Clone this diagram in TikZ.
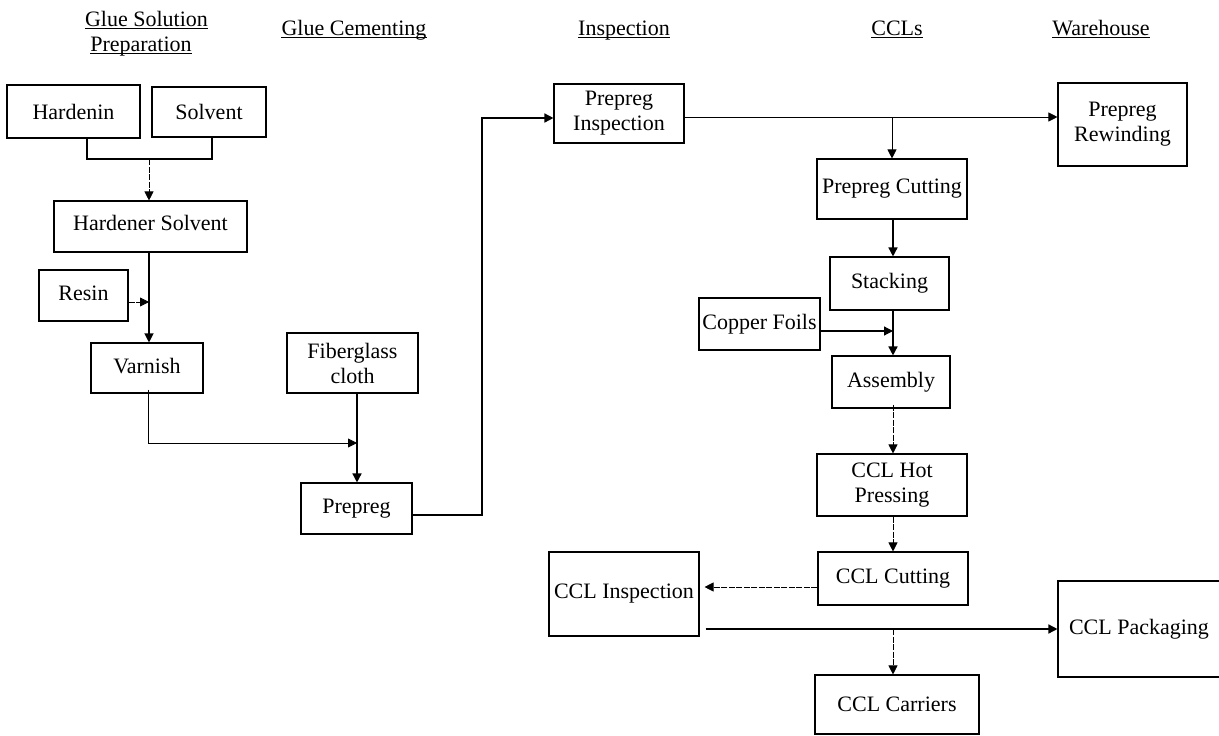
\documentclass[tikz,border=0pt]{standalone}
\usepackage{fontspec}
\setmainfont{Liberation Serif}
\usetikzlibrary{arrows.meta}
\begin{document}
\begin{tikzpicture}[x=1pt,y=-1pt,
  box/.style={draw,line width=1.1pt,inner sep=0pt,align=center,
    font=\fontsize{22}{25}\selectfont},
  hdr/.style={inner sep=0pt,anchor=base,font=\fontsize{22}{25}\selectfont},
  ul/.style={line width=1pt},
  arr/.style={-{Triangle[length=9pt,width=9pt]}},
  thickline/.style={line width=1.5pt},
  medline/.style={line width=1.2pt},
  thinline/.style={line width=0.8pt},
  dashline/.style={line width=0.8pt,dash pattern=on 6pt off 1.5pt}]
\useasboundingbox (0,0) rectangle (1219,736);

% headers
\node[hdr] (h1) at (146.5,26) {Glue Solution\ };
\node[hdr] (h2) at (141,51) {Preparation};
\node[hdr] (h3) at (354,35) {Glue Cementing};
\node[hdr] (h4) at (624,35) {Inspection};
\node[hdr] (h5) at (897,35) {CCLs};
\node[hdr] (h6) at (1101,35) {Warehouse};
\foreach \h in {h1,h2,h3,h4,h5,h6}
  \draw[ul] ([yshift=-2pt]\h.base west) -- ([yshift=-2pt]\h.base east);

% boxes
\node[box,minimum width=133pt,minimum height=53pt] (hard) at (73.5,111.5) {Hardenin};
\node[box,minimum width=114pt,minimum height=50pt] (solv) at (209,112) {Solvent};
\node[box,minimum width=193pt,minimum height=51pt] (hsolv) at (150.5,226.5) {\raisebox{7pt}{Hardener Solvent}};
\node[box,minimum width=89pt,minimum height=51pt] (resin) at (83.5,295.5) {\raisebox{4pt}{Resin}};
\node[box,minimum width=112pt,minimum height=50pt] (varn) at (147,368) {\raisebox{5pt}{Varnish}};
\node[box,minimum width=131pt,minimum height=60pt] (fiber) at (352.5,363) {Fiberglass\\cloth};
\node[box,minimum width=111pt,minimum height=51pt] (prep) at (356.5,508.5) {\raisebox{4pt}{Prepreg}};
\node[box,minimum width=130pt,minimum height=59pt] (pinsp) at (619,113.5) {Prepreg\\Inspection};
\node[box,minimum width=129pt,minimum height=83pt] (prew) at (1122.5,124.5) {Prepreg\\Rewinding};
\node[box,minimum width=150pt,minimum height=60pt] (pcut) at (892,189) {Prepreg Cutting};
\node[box,minimum width=119pt,minimum height=53pt] (stack) at (889.5,283.5) {Stacking};
\node[box,minimum width=121pt,minimum height=52pt] (copper) at (759.5,324) {Copper Foils};
\node[box,minimum width=118pt,minimum height=52pt] (assem) at (891,382) {Assembly};
\node[box,minimum width=150pt,minimum height=62pt] (hot) at (892,485) {CCL Hot\\Pressing};
\node[box,minimum width=150pt,minimum height=53pt] (ccut) at (893,578.5) {CCL Cutting};
\node[box,minimum width=150pt,minimum height=84pt] (cinsp) at (624,594) {CCL Inspection};
\node[box,minimum width=162pt,minimum height=96pt] (cpack) at (1139,629) {CCL Packaging};
\node[box,minimum width=164pt,minimum height=59pt] (ccarr) at (897,704.5) {CCL Carriers};

% junction coordinates
\coordinate (hx) at (87,159);
\coordinate (sx) at (212,159);
\coordinate (jA) at (149,159);
\coordinate (jR) at (149,302);
\coordinate (vc) at (148,443);
\coordinate (jF) at (357,443);
\coordinate (pc1) at (482,515);
\coordinate (pc2) at (482,118);
\coordinate (pr) at (892,117);
\coordinate (jC) at (893,331);
\coordinate (jI) at (893,587);
\coordinate (jP) at (893,629);

% connectors
\draw[thickline] (hard.south -| hx) -- (hx) -- (sx) -- (solv.south -| sx);
\draw[dashline,arr] (jA) -- (hsolv.north -| jA);
\draw[medline,arr] (hsolv.south -| jA) -- (varn.north -| jA);
\draw[dashline,arr] (resin.east |- jR) -- (jR);
\draw[thinline,arr] ([yshift=4pt]varn.south -| vc) -- (vc) -- (jF);
\draw[thickline,arr] (fiber.south -| jF) -- (prep.north -| jF);
\draw[thickline,arr] (prep.east |- pc1) -- (pc1) -- (pc2) -- (pinsp.west |- pc2);
\draw[thinline,arr] (pinsp.east |- pr) -- (prew.west |- pr);
\draw[thinline,arr] (pr) -- (pcut.north -| pr);
\draw[thickline,arr] (pcut.south -| jC) -- (stack.north -| jC);
\draw[medline,arr] (copper.east |- jC) -- (jC);
\draw[thickline,arr] (stack.south -| jC) -- (assem.north -| jC);
\draw[dashline,arr] ([yshift=4pt]assem.south -| jC) -- (hot.north -| jC);
\draw[dashline,arr] (hot.south -| jC) -- (ccut.north -| jC);
\draw[dashline,arr] (ccut.west |- jI) -- ([xshift=5pt]cinsp.east |- jI);
\draw[thickline,arr] ([xshift=6pt]cinsp.east |- jP) -- (cpack.west |- jP);
\draw[dashline,arr] (jP) -- (ccarr.north -| jP);
\end{tikzpicture}
\end{document}
